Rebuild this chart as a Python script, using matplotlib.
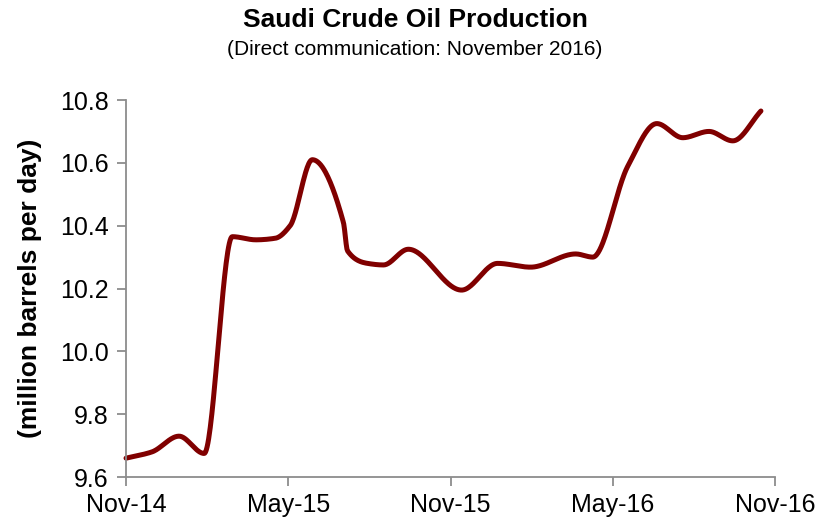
import numpy as np
import matplotlib
matplotlib.use('Agg')
import matplotlib.pyplot as plt

plt.rcParams['font.family'] = ['Liberation Sans', 'DejaVu Sans']

# months since Nov-14
months = [0.00, 0.96, 1.96, 2.89, 3.93, 4.80, 5.52, 6.07, 6.89, 8.04, 8.19,
          8.93, 9.52, 10.44, 12.41, 13.74, 14.96, 16.63, 17.26, 18.56,
          19.63, 20.59, 21.56, 22.44, 23.48]
production = [9.66, 9.68, 9.73, 9.675, 10.365, 10.355, 10.36, 10.40, 10.61, 10.41, 10.32,
              10.28, 10.275, 10.325, 10.195, 10.28, 10.268, 10.31, 10.30, 10.59,
              10.725, 10.68, 10.70, 10.67, 10.765]

tick_months = [0, 6, 12, 18, 24]
tick_labels = ['Nov-14', 'May-15', 'Nov-15', 'May-16', 'Nov-16']
y_ticks = [9.6, 9.8, 10.0, 10.2, 10.4, 10.6, 10.8]


def pchip(x, y, xs):
    # monotone cubic smoothing, like the smoothed line of the original chart
    x = np.asarray(x, float)
    y = np.asarray(y, float)
    h = np.diff(x)
    d = np.diff(y) / h
    m = np.zeros_like(y)
    for i in range(1, len(y) - 1):
        if d[i - 1] * d[i] > 0:
            w1 = 2 * h[i] + h[i - 1]
            w2 = h[i] + 2 * h[i - 1]
            m[i] = (w1 + w2) / (w1 / d[i - 1] + w2 / d[i])
    m[0] = d[0]
    m[-1] = d[-1]
    idx = np.clip(np.searchsorted(x, xs) - 1, 0, len(h) - 1)
    t = (xs - x[idx]) / h[idx]
    h00 = 2 * t**3 - 3 * t**2 + 1
    h10 = t**3 - 2 * t**2 + t
    h01 = -2 * t**3 + 3 * t**2
    h11 = t**3 - t**2
    return h00 * y[idx] + h10 * h[idx] * m[idx] + h01 * y[idx + 1] + h11 * h[idx] * m[idx + 1]


fig = plt.figure(figsize=(8.27, 5.25), dpi=100)
ax = fig.add_axes([0.1524, 0.0914, 0.7847, 0.7181])

xs = np.linspace(months[0], months[-1], 800)
ax.plot(xs, pchip(months, production, xs), color='#800000', linewidth=3.6,
        solid_capstyle='round', clip_on=False)

ax.set_xlim(0, 24)
ax.set_ylim(9.6, 10.8)
ax.set_xticks(tick_months)
ax.set_xticklabels(tick_labels)
ax.set_yticks(y_ticks)
ax.set_yticklabels([f'{v:.1f}' for v in y_ticks])

for side in ['top', 'right']:
    ax.spines[side].set_visible(False)
for side in ['left', 'bottom']:
    ax.spines[side].set_color('#8c8c8c')
    ax.spines[side].set_linewidth(1.3)
ax.tick_params(axis='both', colors='#8c8c8c', labelcolor='black', labelsize=18,
               length=6.5, width=1.3, direction='out')
ax.tick_params(axis='y', pad=6)
ax.tick_params(axis='x', pad=5)

fig.text(30 / 827, 0.45, '(million barrels per day)', rotation=90, fontsize=19,
         fontweight='bold', ha='center', va='center')
fig.text(0.502, 0.962, 'Saudi Crude Oil Production', fontsize=19, fontweight='bold',
         ha='center', va='center')
fig.text(0.502, 0.905, '(Direct communication: November 2016)', fontsize=15,
         ha='center', va='center')

fig.savefig('out.png', dpi=100)
